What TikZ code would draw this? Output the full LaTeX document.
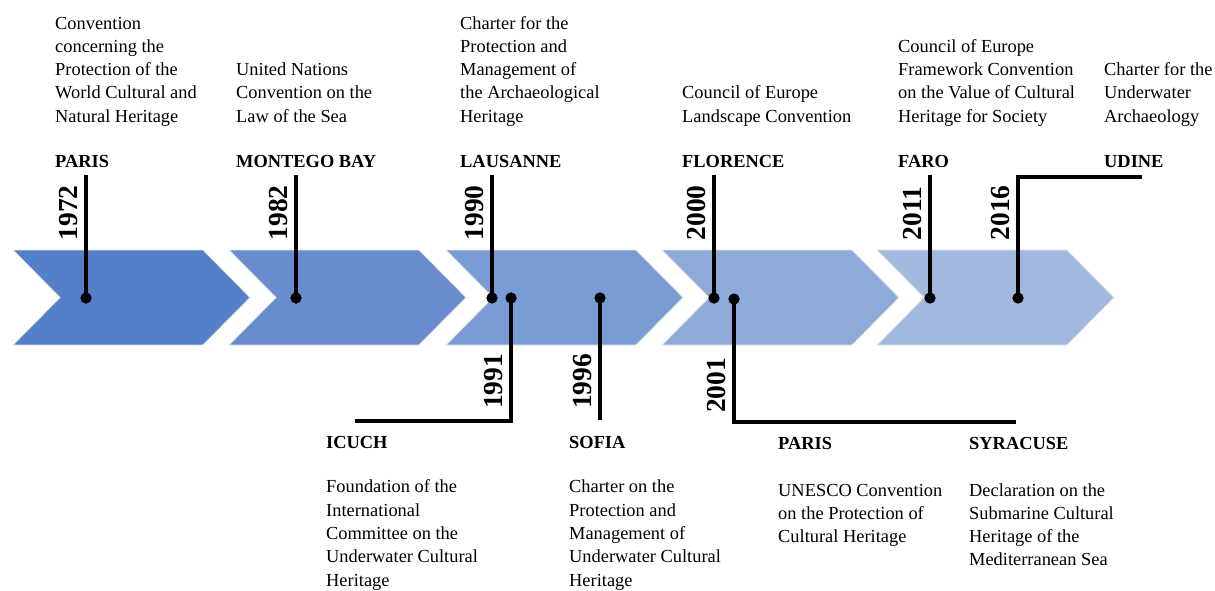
\documentclass[tikz,border=0pt]{standalone}
\usepackage{fontspec}
\setmainfont{Liberation Serif}
\definecolor{c1}{HTML}{557FC9}
\definecolor{c2}{HTML}{678DCE}
\definecolor{c3}{HTML}{7A9CD4}
\definecolor{c4}{HTML}{8DAAD9}
\definecolor{c5}{HTML}{A1B9DF}
\begin{document}
\begin{tikzpicture}[x=1pt,y=-1pt,
  chev/.style={draw=white!82!gray, line width=0.8pt},
  dot/.style={circle, fill=black, inner sep=0pt, minimum size=11pt},
  conn/.style={line width=3.2pt},
  year/.style={rotate=90, anchor=base west, inner sep=0pt, font=\fontsize{27.5}{30}\selectfont\bfseries},
  city/.style={anchor=base west, inner sep=0pt, font=\fontsize{18.4}{23.3}\selectfont\bfseries},
  desc/.style={anchor=base west, inner sep=0pt, align=left, font=\fontsize{18.4}{23.3}\selectfont},
]
\useasboundingbox (0,0) rectangle (1215,590);
\fill[white] (0,0) rectangle (1215,590);
% chevrons
\foreach \L/\c in {13/c1, 229/c2, 446/c3, 662/c4, 877/c5}
  \filldraw[chev, fill=\c] (\L,250) -- (\L+190,250) -- (\L+237,297.5) -- (\L+190,345) -- (\L,345) -- (\L+47,297.5) -- cycle;
% dots
\node[dot] (d1972) at (86,298) {};
\node[dot] (d1982) at (296,298) {};
\node[dot] (d1990) at (492,298) {};
\node[dot] (d1991) at (511,298) {};
\node[dot] (d1996) at (600,298) {};
\node[dot] (d2000) at (714,298) {};
\node[dot] (d2001) at (734,299) {};
\node[dot] (d2011) at (930,298) {};
\node[dot] (d2016) at (1018,298) {};
% connector ends
\coordinate (t1972) at (86,175);
\coordinate (t1982) at (296,175);
\coordinate (t1990) at (492,175);
\coordinate (t2000) at (714,175);
\coordinate (t2011) at (930,175);
\coordinate (t2016) at (1142,177);
\coordinate (b1991) at (355,421);
\coordinate (b1996) at (600,420);
\coordinate (b2001) at (1016,422);
% connectors
\draw[conn] (d1972.center) -- (t1972);
\draw[conn] (d1982.center) -- (t1982);
\draw[conn] (d1990.center) -- (t1990);
\draw[conn] (d2000.center) -- (t2000);
\draw[conn] (d2011.center) -- (t2011);
\draw[conn] (d2016.center) |- (t2016);
\draw[conn] (d1991.center) |- (b1991);
\draw[conn] (d1996.center) -- (b1996);
\draw[conn] (d2001.center) |- (b2001);
% redraw dots on top
\foreach \d in {d1972,d1982,d1990,d1991,d1996,d2000,d2001,d2011,d2016}
  \fill (\d) circle (5.5pt);
% years
\node[year] (y1972) at (77.5,240.5) {1972};
\node[year] (y1982) at (287.5,240.5) {1982};
\node[year] (y1990) at (483.5,240.5) {1990};
\node[year] (y2000) at (705.5,240.5) {2000};
\node[year] (y2011) at (921.5,240.5) {2011};
\node[year] (y2016) at (1009.5,240.5) {2016};
\node[year] (y1991) at (502.5,409) {1991};
\node[year] (y1996) at (591.5,409) {1996};
\node[year] (y2001) at (725.5,413) {2001};
% top texts (anchored at the baseline of the last line)
\node[desc] (x1972) at (55,122.2) {Convention\\concerning the\\Protection of the\\World Cultural and\\Natural Heritage};
\node[city] (c1972) at (55,167) {PARIS};
\node[desc] (x1982) at (236,122.2) {United Nations\\Convention on the\\Law of the Sea};
\node[city] (c1982) at (236,167) {MONTEGO BAY};
\node[desc] (x1990) at (460,122.2) {Charter for the\\Protection and\\Management of\\the Archaeological\\Heritage};
\node[city] (c1990) at (460,167) {LAUSANNE};
\node[desc] (x2000) at (682,122.2) {Council of Europe\\Landscape Convention};
\node[city] (c2000) at (682,167) {FLORENCE};
\node[desc] (x2011) at (898,122.2) {Council of Europe\\Framework Convention\\on the Value of Cultural\\Heritage for Society};
\node[city] (c2011) at (898,167) {FARO};
\node[desc] (x2016) at (1104,122.2) {Charter for the\\Underwater\\Archaeology};
\node[city] (c2016) at (1104,167) {UDINE};
% bottom texts
\node[city] (c1991) at (326,448) {ICUCH};
\node[desc] (x1991) at (326,586) {Foundation of the\\International\\Committee on the\\Underwater Cultural\\Heritage};
\node[city] (c1996) at (569,448) {SOFIA};
\node[desc] (x1996) at (569,586) {Charter on the\\Protection and\\Management of\\Underwater Cultural\\Heritage};
\node[city] (c2001) at (778,449) {PARIS};
\node[desc] (x2001) at (778,542.6) {UNESCO Convention\\on the Protection of\\Cultural Heritage};
\node[city] (c2001b) at (969,449) {SYRACUSE};
\node[desc] (x2001b) at (969,565.9) {Declaration on the\\Submarine Cultural\\Heritage of the\\Mediterranean Sea};
\end{tikzpicture}
\end{document}
